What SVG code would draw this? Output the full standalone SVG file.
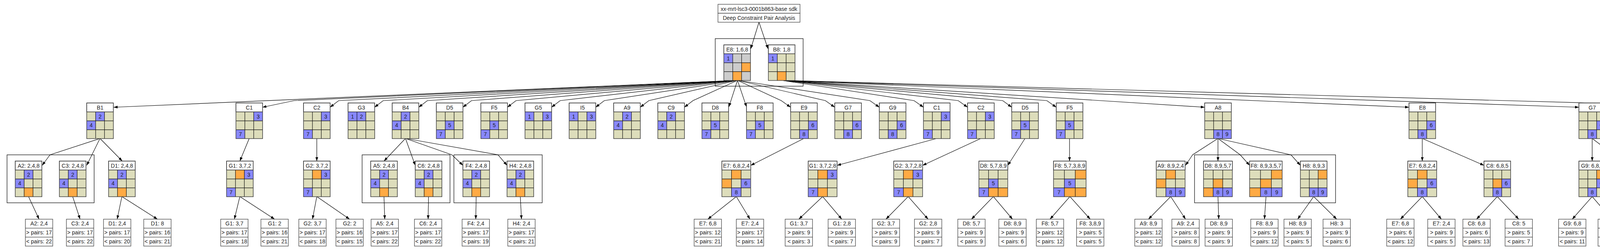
<svg xmlns="http://www.w3.org/2000/svg" width="4809" height="641" viewBox="0 0 4809 641">
<style>
text{font-family:"Liberation Sans",Arial,sans-serif;font-size:14px;fill:#222;text-anchor:middle}
.lt{font-size:13px}
.hd{fill:#fff;stroke:#444;stroke-width:1.3}
.g{fill:#ddddbb}
.gx{fill:#cccccc}
.b{fill:#8888ff}
.o{fill:#ffaa44}
.ln{fill:none;stroke:#111;stroke-width:1.2}
.ol{fill:none;stroke:#444;stroke-width:1.5}
.cl{fill:none;stroke:#000;stroke-width:1.2}
.e{fill:none;stroke:#000;stroke-width:1.2;marker-end:url(#ah)}
</style>
<defs>
<marker id="ah" markerWidth="10" markerHeight="7" refX="10" refY="3.5" orient="auto" markerUnits="userSpaceOnUse"><path d="M0,0L10,3.5L0,7z" fill="#000"/></marker>
<g id="s68"><rect class="hd" width="68.3" height="23"/><rect class="g" y="23" width="68.3" height="68.4"/></g>
<g id="s68x"><rect class="hd" width="68.3" height="23"/><rect class="gx" y="23" width="68.3" height="68.4"/></g>
<g id="l68"><path class="ln" d="M22.8 23V91.4M45.5 23V91.4M0 23H68.3M0 45.8H68.3M0 68.6H68.3"/><rect class="ol" width="68.3" height="91.4"/></g>
<g id="s74"><rect class="hd" width="73.8" height="23"/><rect class="g" y="23" width="73.8" height="68.4"/></g>
<g id="l74"><path class="ln" d="M24.6 23V91.4M49.2 23V91.4M0 23H73.8M0 45.8H73.8M0 68.6H73.8"/><rect class="ol" width="73.8" height="91.4"/></g>
<g id="s83"><rect class="hd" width="83.4" height="23"/><rect class="g" y="23" width="83.4" height="68.4"/></g>
<g id="l83"><path class="ln" d="M27.8 23V91.4M55.6 23V91.4M0 23H83.4M0 45.8H83.4M0 68.6H83.4"/><rect class="ol" width="83.4" height="91.4"/></g>
<g id="s86"><rect class="hd" width="85.8" height="23"/><rect class="g" y="23" width="85.8" height="68.4"/></g>
<g id="l86"><path class="ln" d="M28.6 23V91.4M57.2 23V91.4M0 23H85.8M0 45.8H85.8M0 68.6H85.8"/><rect class="ol" width="85.8" height="91.4"/></g>
<rect id="a1" x="0" y="23" width="22.8" height="22.8"/><rect id="a2" x="22.8" y="23" width="22.8" height="22.8"/><rect id="a3" x="45.5" y="23" width="22.8" height="22.8"/>
<rect id="a4" x="0" y="45.8" width="22.8" height="22.8"/><rect id="a5" x="22.8" y="45.8" width="22.8" height="22.8"/><rect id="a6" x="45.5" y="45.8" width="22.8" height="22.8"/>
<rect id="a7" x="0" y="68.6" width="22.8" height="22.8"/><rect id="a8" x="22.8" y="68.6" width="22.8" height="22.8"/><rect id="a9" x="45.5" y="68.6" width="22.8" height="22.8"/>
<rect id="p1" x="0" y="23" width="24.6" height="22.8"/><rect id="p2" x="24.6" y="23" width="24.6" height="22.8"/><rect id="p3" x="49.2" y="23" width="24.6" height="22.8"/>
<rect id="p4" x="0" y="45.8" width="24.6" height="22.8"/><rect id="p5" x="24.6" y="45.8" width="24.6" height="22.8"/><rect id="p6" x="49.2" y="45.8" width="24.6" height="22.8"/>
<rect id="p7" x="0" y="68.6" width="24.6" height="22.8"/><rect id="p8" x="24.6" y="68.6" width="24.6" height="22.8"/><rect id="p9" x="49.2" y="68.6" width="24.6" height="22.8"/>
<rect id="q1" x="0" y="23" width="27.8" height="22.8"/><rect id="q2" x="27.8" y="23" width="27.8" height="22.8"/><rect id="q3" x="55.6" y="23" width="27.8" height="22.8"/>
<rect id="q4" x="0" y="45.8" width="27.8" height="22.8"/><rect id="q5" x="27.8" y="45.8" width="27.8" height="22.8"/><rect id="q6" x="55.6" y="45.8" width="27.8" height="22.8"/>
<rect id="q7" x="0" y="68.6" width="27.8" height="22.8"/><rect id="q8" x="27.8" y="68.6" width="27.8" height="22.8"/><rect id="q9" x="55.6" y="68.6" width="27.8" height="22.8"/>
<rect id="r1" x="0" y="23" width="28.6" height="22.8"/><rect id="r2" x="28.6" y="23" width="28.6" height="22.8"/><rect id="r3" x="57.2" y="23" width="28.6" height="22.8"/>
<rect id="r4" x="0" y="45.8" width="28.6" height="22.8"/><rect id="r5" x="28.6" y="45.8" width="28.6" height="22.8"/><rect id="r6" x="57.2" y="45.8" width="28.6" height="22.8"/>
<rect id="r7" x="0" y="68.6" width="28.6" height="22.8"/><rect id="r8" x="28.6" y="68.6" width="28.6" height="22.8"/><rect id="r9" x="57.2" y="68.6" width="28.6" height="22.8"/>
<g id="lf"><rect class="hd" width="70" height="69"/><path class="ln" d="M0 23H70M0 46H70"/></g>
</defs>
<rect width="4809" height="641" fill="#fff"/>

<g id="clusters">
<rect class="cl" x="1831" y="99" width="225" height="122"/>
<rect class="cl" x="18" y="397" width="223" height="123"/>
<rect class="cl" x="927" y="397" width="225" height="123"/>
<rect class="cl" x="1162" y="397" width="226" height="123"/>
<rect class="cl" x="3058" y="397" width="361" height="123"/>
<rect class="cl" x="4301" y="397" width="256" height="123"/>
<rect class="cl" x="4567" y="397" width="230" height="123"/>
</g>

<g id="edges">
<path class="e" d="M1943,57L1922,125"/>
<path class="e" d="M1943,57L1966,125"/>
<path class="e" d="M1888,206L291,275"/>
<path class="e" d="M1888,206L753,258L672,275"/>
<path class="e" d="M1888,206L867,258L845,275"/>
<path class="e" d="M1888,206L981,258L959,275"/>
<path class="e" d="M1888,206L1094,258L1072,275"/>
<path class="e" d="M1888,206L1207,258L1185,275"/>
<path class="e" d="M1888,206L1321,258L1299,275"/>
<path class="e" d="M1888,206L1434,258L1412,275"/>
<path class="e" d="M1888,206L1547,258L1525,275"/>
<path class="e" d="M1888,206L1661,258L1639,275"/>
<path class="e" d="M1888,206L1774,258L1752,275"/>
<path class="e" d="M1888,206L1866,274"/>
<path class="e" d="M1888,206L1911,274"/>
<path class="e" d="M1888,206L2000,258L2024,275"/>
<path class="e" d="M1888,206L2113,258L2137,275"/>
<path class="e" d="M1888,206L2227,258L2251,275"/>
<path class="e" d="M2001,206L2340,258L2364,275"/>
<path class="e" d="M2001,206L2453,258L2477,275"/>
<path class="e" d="M2001,206L2567,258L2590,275"/>
<path class="e" d="M2001,206L2680,258L2704,275"/>
<path class="e" d="M2001,206L3084,275"/>
<path class="e" d="M2001,206L3607,275"/>
<path class="e" d="M2001,206L4042,275"/>
<path class="e" d="M2001,206L4460,275"/>
<path class="e" d="M256,355L128,397L108,424"/>
<path class="e" d="M256,355L222,424"/>
<path class="e" d="M256,355L313,413"/>
<path class="e" d="M638,355L614,413"/>
<path class="e" d="M811,355L811,413"/>
<path class="e" d="M1038,355L983,413"/>
<path class="e" d="M1038,355L1063,424"/>
<path class="e" d="M1038,355L1157,397L1185,424"/>
<path class="e" d="M1038,355L1275,397L1298,424"/>
<path class="e" d="M2058,355L1922,424"/>
<path class="e" d="M2398,355L2143,424"/>
<path class="e" d="M2511,355L2362,424"/>
<path class="e" d="M2624,355L2580,424"/>
<path class="e" d="M2738,355L2738,413"/>
<path class="e" d="M3118,355L3053,397L3035,424"/>
<path class="e" d="M3118,355L3118,413"/>
<path class="e" d="M3118,355L3175,397L3199,424"/>
<path class="e" d="M3118,355L3305,397L3329,424"/>
<path class="e" d="M3641,355L3641,413"/>
<path class="e" d="M3641,355L3799,424"/>
<path class="e" d="M4076,355L4076,413"/>
<path class="e" d="M4076,355L4167,424"/>
<path class="e" d="M4494,355L4430,397L4409,424"/>
<path class="e" d="M4494,355L4495,413"/>
<path class="e" d="M4494,355L4567,397L4589,424"/>
<path class="e" d="M4494,355L4682,397L4702,424"/>
<path class="e" d="M73,504L100,562"/>
<path class="e" d="M186,504L205,562"/>
<path class="e" d="M312,504L300,562"/>
<path class="e" d="M312,504L403,562"/>
<path class="e" d="M614,504L600,562"/>
<path class="e" d="M614,504L703,562"/>
<path class="e" d="M811,504L800,562"/>
<path class="e" d="M811,504L895,562"/>
<path class="e" d="M983,504L985,562"/>
<path class="e" d="M1097,504L1096,562"/>
<path class="e" d="M1219,504L1218,562"/>
<path class="e" d="M1332,504L1335,562"/>
<path class="e" d="M1885,504L1812,562"/>
<path class="e" d="M1885,504L1920,562"/>
<path class="e" d="M2106,504L2045,562"/>
<path class="e" d="M2106,504L2155,562"/>
<path class="e" d="M2325,504L2268,562"/>
<path class="e" d="M2325,504L2376,562"/>
<path class="e" d="M2543,504L2487,562"/>
<path class="e" d="M2543,504L2592,562"/>
<path class="e" d="M2739,504L2688,562"/>
<path class="e" d="M2739,504L2791,562"/>
<path class="e" d="M2997,504L2940,562"/>
<path class="e" d="M2997,504L3035,562"/>
<path class="e" d="M3118,504L3120,562"/>
<path class="e" d="M3241,504L3237,562"/>
<path class="e" d="M3363,504L3322,562"/>
<path class="e" d="M3363,504L3422,562"/>
<path class="e" d="M3641,504L3585,562"/>
<path class="e" d="M3641,504L3690,562"/>
<path class="e" d="M3833,504L3780,562"/>
<path class="e" d="M3833,504L3888,562"/>
<path class="e" d="M4076,504L4025,562"/>
<path class="e" d="M4076,504L4126,562"/>
<path class="e" d="M4210,504L4210,562"/>
<path class="e" d="M4366,504L4366,562"/>
<path class="e" d="M4495,504L4496,562"/>
<path class="e" d="M4626,504L4626,562"/>
<path class="e" d="M4739,504L4739,562"/>
</g>

<g id="title"><rect class="hd" x="1838" y="11" width="210" height="23"/><rect class="hd" x="1838" y="34" width="210" height="23"/><text x="1943" y="27.5">xx-mrt-lsc3-0001b863-base sdk</text><text x="1943" y="50.5">Deep Constraint Pair Analysis</text></g>

<g id="n0-E8" transform="translate(1853,115)"><use href="#s68x"/><use href="#a1" class="b"/><use href="#a6" class="o"/><use href="#a8" class="o"/><use href="#l68"/><text x="34.2" y="16.5">E8: 1,6,8</text><text x="11.4" y="39.5">1</text></g>
<g id="n0-B8" transform="translate(1967,115)"><use href="#s68"/><use href="#a1" class="b"/><use href="#a8" class="o"/><use href="#l68"/><text x="34.2" y="16.5">B8: 1,8</text><text x="11.4" y="39.5">1</text></g>

<g id="n1-B1" transform="translate(222,264)"><use href="#s68"/><use href="#a2" class="b"/><use href="#a4" class="b"/><use href="#l68"/><text x="34.2" y="16.5">B1</text><text x="34.2" y="39.5">2</text><text x="11.4" y="62.3">4</text></g>
<g id="n1-C1" transform="translate(604,264)"><use href="#s68"/><use href="#a3" class="b"/><use href="#a7" class="b"/><use href="#l68"/><text x="34.2" y="16.5">C1</text><text x="56.9" y="39.5">3</text><text x="11.4" y="85.1">7</text></g>
<g id="n1-C2" transform="translate(777,264)"><use href="#s68"/><use href="#a3" class="b"/><use href="#a7" class="b"/><use href="#l68"/><text x="34.2" y="16.5">C2</text><text x="56.9" y="39.5">3</text><text x="11.4" y="85.1">7</text></g>
<g id="n1-G3" transform="translate(891,264)"><use href="#s68"/><use href="#a1" class="b"/><use href="#a2" class="b"/><use href="#l68"/><text x="34.2" y="16.5">G3</text><text x="11.4" y="39.5">1</text><text x="34.2" y="39.5">2</text></g>
<g id="n1-B4" transform="translate(1004,264)"><use href="#s68"/><use href="#a2" class="b"/><use href="#a4" class="b"/><use href="#l68"/><text x="34.2" y="16.5">B4</text><text x="34.2" y="39.5">2</text><text x="11.4" y="62.3">4</text></g>
<g id="n1-D5" transform="translate(1117,264)"><use href="#s68"/><use href="#a5" class="b"/><use href="#a7" class="b"/><use href="#l68"/><text x="34.2" y="16.5">D5</text><text x="34.2" y="62.3">5</text><text x="11.4" y="85.1">7</text></g>
<g id="n1-F5" transform="translate(1231,264)"><use href="#s68"/><use href="#a5" class="b"/><use href="#a7" class="b"/><use href="#l68"/><text x="34.2" y="16.5">F5</text><text x="34.2" y="62.3">5</text><text x="11.4" y="85.1">7</text></g>
<g id="n1-G5" transform="translate(1344,264)"><use href="#s68"/><use href="#a1" class="b"/><use href="#a3" class="b"/><use href="#l68"/><text x="34.2" y="16.5">G5</text><text x="11.4" y="39.5">1</text><text x="56.9" y="39.5">3</text></g>
<g id="n1-I5" transform="translate(1457,264)"><use href="#s68"/><use href="#a1" class="b"/><use href="#a3" class="b"/><use href="#l68"/><text x="34.2" y="16.5">I5</text><text x="11.4" y="39.5">1</text><text x="56.9" y="39.5">3</text></g>
<g id="n1-A9" transform="translate(1571,264)"><use href="#s68"/><use href="#a2" class="b"/><use href="#a4" class="b"/><use href="#l68"/><text x="34.2" y="16.5">A9</text><text x="34.2" y="39.5">2</text><text x="11.4" y="62.3">4</text></g>
<g id="n1-C9" transform="translate(1684,264)"><use href="#s68"/><use href="#a2" class="b"/><use href="#a4" class="b"/><use href="#l68"/><text x="34.2" y="16.5">C9</text><text x="34.2" y="39.5">2</text><text x="11.4" y="62.3">4</text></g>
<g id="n1-D8" transform="translate(1797,264)"><use href="#s68"/><use href="#a5" class="b"/><use href="#a7" class="b"/><use href="#l68"/><text x="34.2" y="16.5">D8</text><text x="34.2" y="62.3">5</text><text x="11.4" y="85.1">7</text></g>
<g id="n1-F8" transform="translate(1911,264)"><use href="#s68"/><use href="#a5" class="b"/><use href="#a7" class="b"/><use href="#l68"/><text x="34.2" y="16.5">F8</text><text x="34.2" y="62.3">5</text><text x="11.4" y="85.1">7</text></g>
<g id="n1-E9" transform="translate(2024,264)"><use href="#s68"/><use href="#a6" class="b"/><use href="#a8" class="b"/><use href="#l68"/><text x="34.2" y="16.5">E9</text><text x="56.9" y="62.3">6</text><text x="34.2" y="85.1">8</text></g>
<g id="n1-G7" transform="translate(2137,264)"><use href="#s68"/><use href="#a6" class="b"/><use href="#a8" class="b"/><use href="#l68"/><text x="34.2" y="16.5">G7</text><text x="56.9" y="62.3">6</text><text x="34.2" y="85.1">8</text></g>
<g id="n1-G9" transform="translate(2251,264)"><use href="#s68"/><use href="#a6" class="b"/><use href="#a8" class="b"/><use href="#l68"/><text x="34.2" y="16.5">G9</text><text x="56.9" y="62.3">6</text><text x="34.2" y="85.1">8</text></g>
<g id="n1-C1b" transform="translate(2364,264)"><use href="#s68"/><use href="#a3" class="b"/><use href="#a7" class="b"/><use href="#l68"/><text x="34.2" y="16.5">C1</text><text x="56.9" y="39.5">3</text><text x="11.4" y="85.1">7</text></g>
<g id="n1-C2b" transform="translate(2477,264)"><use href="#s68"/><use href="#a3" class="b"/><use href="#a7" class="b"/><use href="#l68"/><text x="34.2" y="16.5">C2</text><text x="56.9" y="39.5">3</text><text x="11.4" y="85.1">7</text></g>
<g id="n1-D5b" transform="translate(2590,264)"><use href="#s68"/><use href="#a5" class="b"/><use href="#a7" class="b"/><use href="#l68"/><text x="34.2" y="16.5">D5</text><text x="34.2" y="62.3">5</text><text x="11.4" y="85.1">7</text></g>
<g id="n1-F5b" transform="translate(2704,264)"><use href="#s68"/><use href="#a5" class="b"/><use href="#a7" class="b"/><use href="#l68"/><text x="34.2" y="16.5">F5</text><text x="34.2" y="62.3">5</text><text x="11.4" y="85.1">7</text></g>
<g id="n1-A8" transform="translate(3084,264)"><use href="#s68"/><use href="#a8" class="b"/><use href="#a9" class="b"/><use href="#l68"/><text x="34.2" y="16.5">A8</text><text x="34.2" y="85.1">8</text><text x="56.9" y="85.1">9</text></g>
<g id="n1-E8" transform="translate(3607,264)"><use href="#s68"/><use href="#a6" class="b"/><use href="#a8" class="b"/><use href="#l68"/><text x="34.2" y="16.5">E8</text><text x="56.9" y="62.3">6</text><text x="34.2" y="85.1">8</text></g>
<g id="n1-G7b" transform="translate(4042,264)"><use href="#s68"/><use href="#a6" class="b"/><use href="#a8" class="b"/><use href="#l68"/><text x="34.2" y="16.5">G7</text><text x="56.9" y="62.3">6</text><text x="34.2" y="85.1">8</text></g>
<g id="n1-I7" transform="translate(4460,264)"><use href="#s68"/><use href="#a8" class="b"/><use href="#a9" class="b"/><use href="#l68"/><text x="34.2" y="16.5">I7</text><text x="34.2" y="85.1">8</text><text x="56.9" y="85.1">9</text></g>

<g id="n2-A2" transform="translate(39,413)"><use href="#s68"/><use href="#a2" class="b"/><use href="#a4" class="b"/><use href="#a8" class="o"/><use href="#l68"/><text x="34.2" y="16.5">A2: 2,4,8</text><text x="34.2" y="39.5">2</text><text x="11.4" y="62.3">4</text></g>
<g id="n2-C3" transform="translate(152,413)"><use href="#s68"/><use href="#a2" class="b"/><use href="#a4" class="b"/><use href="#a8" class="o"/><use href="#l68"/><text x="34.2" y="16.5">C3: 2,4,8</text><text x="34.2" y="39.5">2</text><text x="11.4" y="62.3">4</text></g>
<g id="n2-D1" transform="translate(278,413)"><use href="#s68"/><use href="#a2" class="b"/><use href="#a4" class="b"/><use href="#a8" class="o"/><use href="#l68"/><text x="34.2" y="16.5">D1: 2,4,8</text><text x="34.2" y="39.5">2</text><text x="11.4" y="62.3">4</text></g>
<g id="n2-G1" transform="translate(580,413)"><use href="#s68"/><use href="#a3" class="b"/><use href="#a7" class="b"/><use href="#a2" class="o"/><use href="#l68"/><text x="34.2" y="16.5">G1: 3,7,2</text><text x="56.9" y="39.5">3</text><text x="11.4" y="85.1">7</text></g>
<g id="n2-G2" transform="translate(777,413)"><use href="#s68"/><use href="#a3" class="b"/><use href="#a7" class="b"/><use href="#a2" class="o"/><use href="#l68"/><text x="34.2" y="16.5">G2: 3,7,2</text><text x="56.9" y="39.5">3</text><text x="11.4" y="85.1">7</text></g>
<g id="n2-A5" transform="translate(949,413)"><use href="#s68"/><use href="#a2" class="b"/><use href="#a4" class="b"/><use href="#a8" class="o"/><use href="#l68"/><text x="34.2" y="16.5">A5: 2,4,8</text><text x="34.2" y="39.5">2</text><text x="11.4" y="62.3">4</text></g>
<g id="n2-C6" transform="translate(1063,413)"><use href="#s68"/><use href="#a2" class="b"/><use href="#a4" class="b"/><use href="#a8" class="o"/><use href="#l68"/><text x="34.2" y="16.5">C6: 2,4,8</text><text x="34.2" y="39.5">2</text><text x="11.4" y="62.3">4</text></g>
<g id="n2-F4" transform="translate(1185,413)"><use href="#s68"/><use href="#a2" class="b"/><use href="#a4" class="b"/><use href="#a8" class="o"/><use href="#l68"/><text x="34.2" y="16.5">F4: 2,4,8</text><text x="34.2" y="39.5">2</text><text x="11.4" y="62.3">4</text></g>
<g id="n2-H4" transform="translate(1298,413)"><use href="#s68"/><use href="#a2" class="b"/><use href="#a4" class="b"/><use href="#a8" class="o"/><use href="#l68"/><text x="34.2" y="16.5">H4: 2,4,8</text><text x="34.2" y="39.5">2</text><text x="11.4" y="62.3">4</text></g>
<g id="n2-E7" transform="translate(1848,413)"><use href="#s74"/><use href="#p6" class="b"/><use href="#p8" class="b"/><use href="#p2" class="o"/><use href="#p4" class="o"/><use href="#l74"/><text x="36.9" y="16.5">E7: 6,8,2,4</text><text x="61.5" y="62.3">6</text><text x="36.9" y="85.1">8</text></g>
<g id="n2-G1b" transform="translate(2069,413)"><use href="#s74"/><use href="#p3" class="b"/><use href="#p7" class="b"/><use href="#p2" class="o"/><use href="#p8" class="o"/><use href="#l74"/><text x="36.9" y="16.5">G1: 3,7,2,8</text><text x="61.5" y="39.5">3</text><text x="12.3" y="85.1">7</text></g>
<g id="n2-G2b" transform="translate(2288,413)"><use href="#s74"/><use href="#p3" class="b"/><use href="#p7" class="b"/><use href="#p2" class="o"/><use href="#p8" class="o"/><use href="#l74"/><text x="36.9" y="16.5">G2: 3,7,2,8</text><text x="61.5" y="39.5">3</text><text x="12.3" y="85.1">7</text></g>
<g id="n2-D8" transform="translate(2506,413)"><use href="#s74"/><use href="#p5" class="b"/><use href="#p7" class="b"/><use href="#p8" class="o"/><use href="#p9" class="o"/><use href="#l74"/><text x="36.9" y="16.5">D8: 5,7,8,9</text><text x="36.9" y="62.3">5</text><text x="12.3" y="85.1">7</text></g>
<g id="n2-F8" transform="translate(2697,413)"><use href="#s83"/><use href="#q5" class="b"/><use href="#q7" class="b"/><use href="#q3" class="o"/><use href="#q8" class="o"/><use href="#q9" class="o"/><use href="#l83"/><text x="41.7" y="16.5">F8: 5,7,3,8,9</text><text x="41.7" y="62.3">5</text><text x="13.9" y="85.1">7</text></g>
<g id="n2-A9" transform="translate(2960,413)"><use href="#s74"/><use href="#p8" class="b"/><use href="#p9" class="b"/><use href="#p2" class="o"/><use href="#p4" class="o"/><use href="#l74"/><text x="36.9" y="16.5">A9: 8,9,2,4</text><text x="36.9" y="85.1">8</text><text x="61.5" y="85.1">9</text></g>
<g id="n2-D8b" transform="translate(3081,413)"><use href="#s74"/><use href="#p8" class="b"/><use href="#p9" class="b"/><use href="#p5" class="o"/><use href="#p7" class="o"/><use href="#l74"/><text x="36.9" y="16.5">D8: 8,9,5,7</text><text x="36.9" y="85.1">8</text><text x="61.5" y="85.1">9</text></g>
<g id="n2-F8b" transform="translate(3199,413)"><use href="#s83"/><use href="#q8" class="b"/><use href="#q9" class="b"/><use href="#q3" class="o"/><use href="#q5" class="o"/><use href="#q7" class="o"/><use href="#l83"/><text x="41.7" y="16.5">F8: 8,9,3,5,7</text><text x="41.7" y="85.1">8</text><text x="69.5" y="85.1">9</text></g>
<g id="n2-H8" transform="translate(3329,413)"><use href="#s68"/><use href="#a8" class="b"/><use href="#a9" class="b"/><use href="#a3" class="o"/><use href="#l68"/><text x="34.2" y="16.5">H8: 8,9,3</text><text x="34.2" y="85.1">8</text><text x="56.9" y="85.1">9</text></g>
<g id="n2-E7b" transform="translate(3604,413)"><use href="#s74"/><use href="#p6" class="b"/><use href="#p8" class="b"/><use href="#p2" class="o"/><use href="#p4" class="o"/><use href="#l74"/><text x="36.9" y="16.5">E7: 6,8,2,4</text><text x="61.5" y="62.3">6</text><text x="36.9" y="85.1">8</text></g>
<g id="n2-C8" transform="translate(3799,413)"><use href="#s68"/><use href="#a6" class="b"/><use href="#a8" class="b"/><use href="#a5" class="o"/><use href="#l68"/><text x="34.2" y="16.5">C8: 6,8,5</text><text x="56.9" y="62.3">6</text><text x="34.2" y="85.1">8</text></g>
<g id="n2-G9" transform="translate(4042,413)"><use href="#s68"/><use href="#a6" class="b"/><use href="#a8" class="b"/><use href="#a3" class="o"/><use href="#l68"/><text x="34.2" y="16.5">G9: 6,8,3</text><text x="56.9" y="62.3">6</text><text x="34.2" y="85.1">8</text></g>
<g id="n2-C7" transform="translate(4167,413)"><use href="#s86"/><use href="#r6" class="b"/><use href="#r8" class="b"/><use href="#r2" class="o"/><use href="#r4" class="o"/><use href="#r5" class="o"/><use href="#l86"/><text x="42.9" y="16.5">C7: 6,8,2,4,5</text><text x="71.5" y="62.3">6</text><text x="42.9" y="85.1">8</text></g>
<g id="n2-D7" transform="translate(4323,413)"><use href="#s86"/><use href="#r8" class="b"/><use href="#r9" class="b"/><use href="#r2" class="o"/><use href="#r4" class="o"/><use href="#r5" class="o"/><use href="#l86"/><text x="42.9" y="16.5">D7: 8,9,2,4,5</text><text x="42.9" y="85.1">8</text><text x="71.5" y="85.1">9</text></g>
<g id="n2-F7" transform="translate(4453,413)"><use href="#s83"/><use href="#q8" class="b"/><use href="#q9" class="b"/><use href="#q2" class="o"/><use href="#q4" class="o"/><use href="#q5" class="o"/><use href="#l83"/><text x="41.7" y="16.5">F7: 8,9,2,4,5</text><text x="41.7" y="85.1">8</text><text x="69.5" y="85.1">9</text></g>
<g id="n2-I1" transform="translate(4589,413)"><use href="#s74"/><use href="#p8" class="b"/><use href="#p9" class="b"/><use href="#p3" class="o"/><use href="#p4" class="o"/><use href="#l74"/><text x="36.9" y="16.5">I1: 8,9,3,4</text><text x="36.9" y="85.1">8</text><text x="61.5" y="85.1">9</text></g>
<g id="n2-I2" transform="translate(4702,413)"><use href="#s74"/><use href="#p8" class="b"/><use href="#p9" class="b"/><use href="#p3" class="o"/><use href="#p4" class="o"/><use href="#l74"/><text x="36.9" y="16.5">I2: 8,9,3,4</text><text x="36.9" y="85.1">8</text><text x="61.5" y="85.1">9</text></g>

<g class="lt">
<g id="lf01" transform="translate(65,562)"><use href="#lf"/><text x="35" y="16">A2: 2,4</text><text x="35" y="39">&gt; pairs: 17</text><text x="35" y="62">&lt; pairs: 22</text></g>
<g id="lf02" transform="translate(170,562)"><use href="#lf"/><text x="35" y="16">C3: 2,4</text><text x="35" y="39">&gt; pairs: 17</text><text x="35" y="62">&lt; pairs: 22</text></g>
<g id="lf03" transform="translate(265,562)"><use href="#lf"/><text x="35" y="16">D1: 2,4</text><text x="35" y="39">&gt; pairs: 17</text><text x="35" y="62">&lt; pairs: 20</text></g>
<g id="lf04" transform="translate(368,562)"><use href="#lf"/><text x="35" y="16">D1: 8</text><text x="35" y="39">&gt; pairs: 16</text><text x="35" y="62">&lt; pairs: 21</text></g>
<g id="lf05" transform="translate(565,562)"><use href="#lf"/><text x="35" y="16">G1: 3,7</text><text x="35" y="39">&gt; pairs: 17</text><text x="35" y="62">&lt; pairs: 18</text></g>
<g id="lf06" transform="translate(668,562)"><use href="#lf"/><text x="35" y="16">G1: 2</text><text x="35" y="39">&gt; pairs: 16</text><text x="35" y="62">&lt; pairs: 21</text></g>
<g id="lf07" transform="translate(765,562)"><use href="#lf"/><text x="35" y="16">G2: 3,7</text><text x="35" y="39">&gt; pairs: 17</text><text x="35" y="62">&lt; pairs: 18</text></g>
<g id="lf08" transform="translate(860,562)"><use href="#lf"/><text x="35" y="16">G2: 2</text><text x="35" y="39">&gt; pairs: 16</text><text x="35" y="62">&lt; pairs: 15</text></g>
<g id="lf09" transform="translate(950,562)"><use href="#lf"/><text x="35" y="16">A5: 2,4</text><text x="35" y="39">&gt; pairs: 17</text><text x="35" y="62">&lt; pairs: 22</text></g>
<g id="lf10" transform="translate(1061,562)"><use href="#lf"/><text x="35" y="16">C6: 2,4</text><text x="35" y="39">&gt; pairs: 17</text><text x="35" y="62">&lt; pairs: 22</text></g>
<g id="lf11" transform="translate(1183,562)"><use href="#lf"/><text x="35" y="16">F4: 2,4</text><text x="35" y="39">&gt; pairs: 17</text><text x="35" y="62">&lt; pairs: 19</text></g>
<g id="lf12" transform="translate(1300,562)"><use href="#lf"/><text x="35" y="16">H4: 2,4</text><text x="35" y="39">&gt; pairs: 17</text><text x="35" y="62">&lt; pairs: 21</text></g>
<g id="lf13" transform="translate(1777,562)"><use href="#lf"/><text x="35" y="16">E7: 6,8</text><text x="35" y="39">&gt; pairs: 12</text><text x="35" y="62">&lt; pairs: 21</text></g>
<g id="lf14" transform="translate(1885,562)"><use href="#lf"/><text x="35" y="16">E7: 2,4</text><text x="35" y="39">&gt; pairs: 17</text><text x="35" y="62">&lt; pairs: 14</text></g>
<g id="lf15" transform="translate(2010,562)"><use href="#lf"/><text x="35" y="16">G1: 3,7</text><text x="35" y="39">&gt; pairs: 9</text><text x="35" y="62">&lt; pairs: 3</text></g>
<g id="lf16" transform="translate(2120,562)"><use href="#lf"/><text x="35" y="16">G1: 2,8</text><text x="35" y="39">&gt; pairs: 9</text><text x="35" y="62">&lt; pairs: 7</text></g>
<g id="lf17" transform="translate(2233,562)"><use href="#lf"/><text x="35" y="16">G2: 3,7</text><text x="35" y="39">&gt; pairs: 9</text><text x="35" y="62">&lt; pairs: 9</text></g>
<g id="lf18" transform="translate(2341,562)"><use href="#lf"/><text x="35" y="16">G2: 2,8</text><text x="35" y="39">&gt; pairs: 9</text><text x="35" y="62">&lt; pairs: 7</text></g>
<g id="lf19" transform="translate(2452,562)"><use href="#lf"/><text x="35" y="16">D8: 5,7</text><text x="35" y="39">&gt; pairs: 9</text><text x="35" y="62">&lt; pairs: 9</text></g>
<g id="lf20" transform="translate(2557,562)"><use href="#lf"/><text x="35" y="16">D8: 8,9</text><text x="35" y="39">&gt; pairs: 9</text><text x="35" y="62">&lt; pairs: 6</text></g>
<g id="lf21" transform="translate(2653,562)"><use href="#lf"/><text x="35" y="16">F8: 5,7</text><text x="35" y="39">&gt; pairs: 12</text><text x="35" y="62">&lt; pairs: 12</text></g>
<g id="lf22" transform="translate(2756,562)"><use href="#lf"/><text x="35" y="16">F8: 3,8,9</text><text x="35" y="39">&gt; pairs: 5</text><text x="35" y="62">&lt; pairs: 5</text></g>
<g id="lf23" transform="translate(2905,562)"><use href="#lf"/><text x="35" y="16">A9: 8,9</text><text x="35" y="39">&gt; pairs: 12</text><text x="35" y="62">&lt; pairs: 12</text></g>
<g id="lf24" transform="translate(3000,562)"><use href="#lf"/><text x="35" y="16">A9: 2,4</text><text x="35" y="39">&gt; pairs: 8</text><text x="35" y="62">&lt; pairs: 8</text></g>
<g id="lf25" transform="translate(3085,562)"><use href="#lf"/><text x="35" y="16">D8: 8,9</text><text x="35" y="39">&gt; pairs: 9</text><text x="35" y="62">&lt; pairs: 9</text></g>
<g id="lf26" transform="translate(3202,562)"><use href="#lf"/><text x="35" y="16">F8: 8,9</text><text x="35" y="39">&gt; pairs: 9</text><text x="35" y="62">&lt; pairs: 12</text></g>
<g id="lf27" transform="translate(3287,562)"><use href="#lf"/><text x="35" y="16">H8: 8,9</text><text x="35" y="39">&gt; pairs: 9</text><text x="35" y="62">&lt; pairs: 5</text></g>
<g id="lf28" transform="translate(3387,562)"><use href="#lf"/><text x="35" y="16">H8: 3</text><text x="35" y="39">&gt; pairs: 9</text><text x="35" y="62">&lt; pairs: 6</text></g>
<g id="lf29" transform="translate(3550,562)"><use href="#lf"/><text x="35" y="16">E7: 6,8</text><text x="35" y="39">&gt; pairs: 6</text><text x="35" y="62">&lt; pairs: 12</text></g>
<g id="lf30" transform="translate(3655,562)"><use href="#lf"/><text x="35" y="16">E7: 2,4</text><text x="35" y="39">&gt; pairs: 9</text><text x="35" y="62">&lt; pairs: 5</text></g>
<g id="lf31" transform="translate(3745,562)"><use href="#lf"/><text x="35" y="16">C8: 6,8</text><text x="35" y="39">&gt; pairs: 6</text><text x="35" y="62">&lt; pairs: 13</text></g>
<g id="lf32" transform="translate(3853,562)"><use href="#lf"/><text x="35" y="16">C8: 5</text><text x="35" y="39">&gt; pairs: 5</text><text x="35" y="62">&lt; pairs: 7</text></g>
<g id="lf33" transform="translate(3990,562)"><use href="#lf"/><text x="35" y="16">G9: 6,8</text><text x="35" y="39">&gt; pairs: 9</text><text x="35" y="62">&lt; pairs: 11</text></g>
<g id="lf34" transform="translate(4091,562)"><use href="#lf"/><text x="35" y="16">G9: 3</text><text x="35" y="39">&gt; pairs: 8</text><text x="35" y="62">&lt; pairs: 5</text></g>
<g id="lf35" transform="translate(4175,562)"><use href="#lf"/><text x="35" y="16">C7: 6,8</text><text x="35" y="39">&gt; pairs: 9</text><text x="35" y="62">&lt; pairs: 11</text></g>
<g id="lf36" transform="translate(4331,562)"><use href="#lf"/><text x="35" y="16">D7: 8,9</text><text x="35" y="39">&gt; pairs: 9</text><text x="35" y="62">&lt; pairs: 11</text></g>
<g id="lf37" transform="translate(4461,562)"><use href="#lf"/><text x="35" y="16">F7: 8,9</text><text x="35" y="39">&gt; pairs: 9</text><text x="35" y="62">&lt; pairs: 14</text></g>
<g id="lf38" transform="translate(4591,562)"><use href="#lf"/><text x="35" y="16">I1: 8,9</text><text x="35" y="39">&gt; pairs: 9</text><text x="35" y="62">&lt; pairs: 5</text></g>
<g id="lf39" transform="translate(4704,562)"><use href="#lf"/><text x="35" y="16">I2: 8,9</text><text x="35" y="39">&gt; pairs: 9</text><text x="35" y="62">&lt; pairs: 5</text></g>
</g>
</svg>
